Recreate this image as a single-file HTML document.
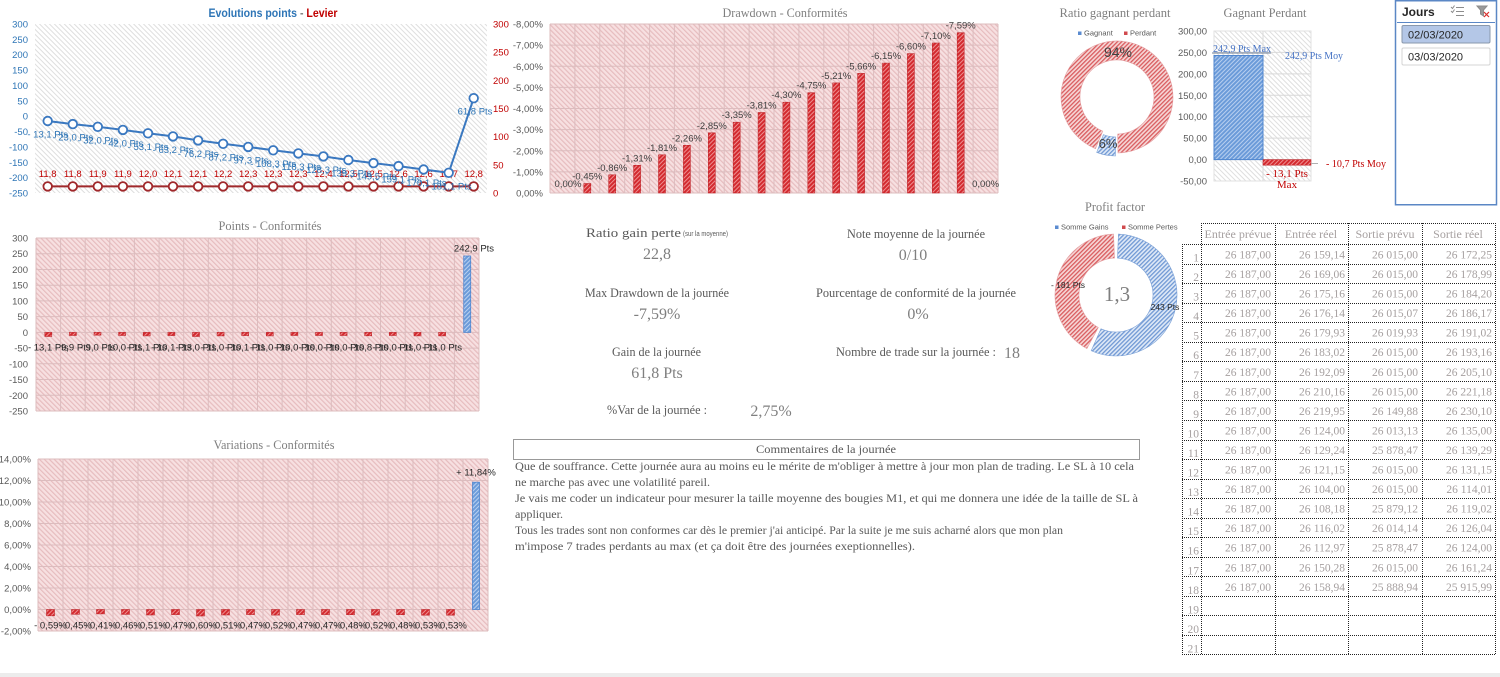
<!DOCTYPE html>
<html><head><meta charset="utf-8"><style>
html,body{margin:0;padding:0;background:#fff;width:1500px;height:677px;overflow:hidden}
svg{display:block}
</style></head><body>
<svg width="1500" height="677" viewBox="0 0 1500 677" xmlns="http://www.w3.org/2000/svg">
<defs>
<pattern id="pk" width="3.5" height="3.5" patternUnits="userSpaceOnUse" patternTransform="rotate(-45)"><rect width="3.5" height="3.5" fill="#f7e0e1"/><rect width="1.2" height="3.5" fill="#e6bcbe"/></pattern>
<pattern id="gy" width="3.5" height="3.5" patternUnits="userSpaceOnUse" patternTransform="rotate(-45)"><rect width="3.5" height="3.5" fill="#ffffff"/><rect width="1" height="3.5" fill="#dedede"/></pattern>
<pattern id="rb" width="3" height="3" patternUnits="userSpaceOnUse" patternTransform="rotate(45)"><rect width="3" height="3" fill="#d32a2f"/><rect width="1" height="3" fill="#ef8e90"/></pattern>
<pattern id="bb" width="3" height="3" patternUnits="userSpaceOnUse" patternTransform="rotate(45)"><rect width="3" height="3" fill="#6b9bd9"/><rect width="1" height="3" fill="#b9d0f0"/></pattern>
<pattern id="rd" width="3" height="3" patternUnits="userSpaceOnUse" patternTransform="rotate(45)"><rect width="3" height="3" fill="#f6d6d6"/><rect width="1.3" height="3" fill="#d95b5e"/></pattern>
<pattern id="bd" width="3" height="3" patternUnits="userSpaceOnUse" patternTransform="rotate(45)"><rect width="3" height="3" fill="#dfe9f7"/><rect width="1.3" height="3" fill="#6f98d4"/></pattern>
</defs>

<!-- ============ Chart 1: Evolutions points - Levier ============ -->
<text x="273" y="17" text-anchor="middle" font-family="Liberation Sans, sans-serif" font-size="12" font-weight="bold" textLength="129" lengthAdjust="spacingAndGlyphs"><tspan fill="#2e75b6">Evolutions points</tspan><tspan fill="#7f7f7f"> - </tspan><tspan fill="#c00000">Levier</tspan></text>
<rect x="35" y="24" width="452" height="169" fill="url(#gy)"/>
<g font-family="Liberation Sans, sans-serif" font-size="9.5" fill="#2e75b6" text-anchor="end">
<text x="28" y="27.5">300</text><text x="28" y="42.9">250</text><text x="28" y="58.2">200</text><text x="28" y="73.6">150</text><text x="28" y="89">100</text><text x="28" y="104.3">50</text><text x="28" y="119.7">0</text><text x="28" y="135">-50</text><text x="28" y="150.4">-100</text><text x="28" y="165.8">-150</text><text x="28" y="181.1">-200</text><text x="28" y="196.5">-250</text>
</g>
<g font-family="Liberation Sans, sans-serif" font-size="9.5" fill="#c00000" text-anchor="start">
<text x="493" y="27.5">300</text><text x="493" y="55.7">250</text><text x="493" y="83.8">200</text><text x="493" y="112">150</text><text x="493" y="140.2">100</text><text x="493" y="168.3">50</text><text x="493" y="196.5">0</text>
</g>
<polyline fill="none" stroke="#a0282b" stroke-width="2" points="47.7,186.4 72.8,186.4 97.8,186.4 122.9,186.4 148,186.4 173,186.4 198.1,186.4 223.1,186.4 248.2,186.4 273.2,186.4 298.3,186.4 323.4,186.4 348.4,186.4 373.5,186.4 398.5,186.4 423.6,186.4 448.7,186.4 473.7,186.4"/>
<g fill="#fff" stroke="#a0282b" stroke-width="1.8">
<circle cx="47.7" cy="186.4" r="4.3"/><circle cx="72.8" cy="186.4" r="4.3"/><circle cx="97.8" cy="186.4" r="4.3"/><circle cx="122.9" cy="186.4" r="4.3"/><circle cx="148" cy="186.4" r="4.3"/><circle cx="173" cy="186.4" r="4.3"/><circle cx="198.1" cy="186.4" r="4.3"/><circle cx="223.1" cy="186.4" r="4.3"/><circle cx="248.2" cy="186.4" r="4.3"/><circle cx="273.2" cy="186.4" r="4.3"/><circle cx="298.3" cy="186.4" r="4.3"/><circle cx="323.4" cy="186.4" r="4.3"/><circle cx="348.4" cy="186.4" r="4.3"/><circle cx="373.5" cy="186.4" r="4.3"/><circle cx="398.5" cy="186.4" r="4.3"/><circle cx="423.6" cy="186.4" r="4.3"/><circle cx="448.7" cy="186.4" r="4.3"/><circle cx="473.7" cy="186.4" r="4.3"/>
</g>
<g font-family="Liberation Sans, sans-serif" font-size="9.5" fill="#c00000" text-anchor="middle">
<text x="47.7" y="177">11,8</text><text x="72.8" y="177">11,8</text><text x="97.8" y="177">11,9</text><text x="122.9" y="177">11,9</text><text x="148" y="177">12,0</text><text x="173" y="177">12,1</text><text x="198.1" y="177">12,1</text><text x="223.1" y="177">12,2</text><text x="248.2" y="177">12,3</text><text x="273.2" y="177">12,3</text><text x="298.3" y="177">12,3</text><text x="323.4" y="177">12,4</text><text x="348.4" y="177">12,5</text><text x="373.5" y="177">12,5</text><text x="398.5" y="177">12,6</text><text x="423.6" y="177">12,6</text><text x="448.7" y="177">12,7</text><text x="473.7" y="177">12,8</text>
</g>
<polyline fill="none" stroke="#3a78c0" stroke-width="2" points="47.7,121 72.8,124.1 97.8,126.8 122.9,129.9 148,133.3 173,136.4 198.1,140.4 223.1,143.8 248.2,146.9 273.2,150.3 298.3,153.4 323.4,156.4 348.4,160 373.5,163.1 398.5,166.1 423.6,169.5 448.7,172.8 473.7,98.2"/>
<g fill="#fff" stroke="#3a78c0" stroke-width="1.8">
<circle cx="47.7" cy="121" r="4.3"/><circle cx="72.8" cy="124.1" r="4.3"/><circle cx="97.8" cy="126.8" r="4.3"/><circle cx="122.9" cy="129.9" r="4.3"/><circle cx="148" cy="133.3" r="4.3"/><circle cx="173" cy="136.4" r="4.3"/><circle cx="198.1" cy="140.4" r="4.3"/><circle cx="223.1" cy="143.8" r="4.3"/><circle cx="248.2" cy="146.9" r="4.3"/><circle cx="273.2" cy="150.3" r="4.3"/><circle cx="298.3" cy="153.4" r="4.3"/><circle cx="323.4" cy="156.4" r="4.3"/><circle cx="348.4" cy="160" r="4.3"/><circle cx="373.5" cy="163.1" r="4.3"/><circle cx="398.5" cy="166.1" r="4.3"/><circle cx="423.6" cy="169.5" r="4.3"/><circle cx="448.7" cy="172.8" r="4.3"/><circle cx="473.7" cy="98.2" r="4.3"/>
</g>
<g font-family="Liberation Sans, sans-serif" font-size="9.5" fill="#2e75b6" text-anchor="middle">
<text x="47.7" y="137.5">- 13,1 Pts</text><text x="72.8" y="140.6">- 23,0 Pts</text><text x="97.8" y="143.3">- 32,0 Pts</text><text x="122.9" y="146.4">- 42,0 Pts</text><text x="148" y="149.8">- 53,1 Pts</text><text x="173" y="152.9">- 63,2 Pts</text><text x="198.1" y="156.9">- 76,2 Pts</text><text x="223.1" y="160.3">- 87,2 Pts</text><text x="248.2" y="163.4">- 97,3 Pts</text><text x="273.2" y="166.8">- 108,3 Pts</text><text x="298.3" y="169.9">- 118,3 Pts</text><text x="323.4" y="172.9">- 128,3 Pts</text><text x="348.4" y="176.5">- 139,3 Pts</text><text x="373.5" y="179.6">- 149,5 Pts</text><text x="398.5" y="182.6">- 159,1 Pts</text><text x="423.6" y="186">- 170,1 Pts</text><text x="448.7" y="189.3">- 181,1 Pts</text><text x="475" y="114.7">61,8 Pts</text>
</g>

<!-- ============ Chart 2: Drawdown ============ -->
<text x="785" y="17" text-anchor="middle" font-family="Liberation Serif, serif" font-size="13" fill="#7f7f7f" textLength="125" lengthAdjust="spacingAndGlyphs">Drawdown - Conformités</text>
<rect x="550" y="24" width="448" height="169" fill="url(#pk)"/>
<g stroke="#dcbcbe" stroke-width="1">
<line x1="550" y1="24" x2="998" y2="24"/><line x1="550" y1="45.1" x2="998" y2="45.1"/><line x1="550" y1="66.25" x2="998" y2="66.25"/><line x1="550" y1="87.4" x2="998" y2="87.4"/><line x1="550" y1="108.5" x2="998" y2="108.5"/><line x1="550" y1="129.6" x2="998" y2="129.6"/><line x1="550" y1="150.75" x2="998" y2="150.75"/><line x1="550" y1="171.9" x2="998" y2="171.9"/><line x1="550" y1="193" x2="998" y2="193"/>
<line x1="550" y1="24" x2="550" y2="193"/><line x1="574.9" y1="24" x2="574.9" y2="193"/><line x1="599.8" y1="24" x2="599.8" y2="193"/><line x1="624.7" y1="24" x2="624.7" y2="193"/><line x1="649.6" y1="24" x2="649.6" y2="193"/><line x1="674.4" y1="24" x2="674.4" y2="193"/><line x1="699.3" y1="24" x2="699.3" y2="193"/><line x1="724.2" y1="24" x2="724.2" y2="193"/><line x1="749.1" y1="24" x2="749.1" y2="193"/><line x1="774" y1="24" x2="774" y2="193"/><line x1="798.9" y1="24" x2="798.9" y2="193"/><line x1="823.8" y1="24" x2="823.8" y2="193"/><line x1="848.7" y1="24" x2="848.7" y2="193"/><line x1="873.6" y1="24" x2="873.6" y2="193"/><line x1="898.4" y1="24" x2="898.4" y2="193"/><line x1="923.3" y1="24" x2="923.3" y2="193"/><line x1="948.2" y1="24" x2="948.2" y2="193"/><line x1="973.1" y1="24" x2="973.1" y2="193"/><line x1="998" y1="24" x2="998" y2="193"/>
</g>
<g font-family="Liberation Sans, sans-serif" font-size="9.5" fill="#595959" text-anchor="end">
<text x="543" y="27.5">-8,00%</text><text x="543" y="48.6">-7,00%</text><text x="543" y="69.8">-6,00%</text><text x="543" y="90.9">-5,00%</text><text x="543" y="112">-4,00%</text><text x="543" y="133.1">-3,00%</text><text x="543" y="154.3">-2,00%</text><text x="543" y="175.4">-1,00%</text><text x="543" y="196.5">0,00%</text>
</g>
<g fill="url(#rb)" stroke="#c0282d" stroke-width="0.6">
<rect x="583.8" y="183.5" width="7" height="9.5"/><rect x="608.7" y="174.8" width="7" height="18.2"/><rect x="633.6" y="165.3" width="7" height="27.7"/><rect x="658.5" y="154.8" width="7" height="38.2"/><rect x="683.4" y="145.3" width="7" height="47.7"/><rect x="708.3" y="132.8" width="7" height="60.2"/><rect x="733.2" y="122.2" width="7" height="70.8"/><rect x="758.1" y="112.5" width="7" height="80.5"/><rect x="782.9" y="102.2" width="7" height="90.8"/><rect x="807.8" y="92.7" width="7" height="100.3"/><rect x="832.7" y="82.9" width="7" height="110.1"/><rect x="857.6" y="73.4" width="7" height="119.6"/><rect x="882.5" y="63.1" width="7" height="129.9"/><rect x="907.4" y="53.6" width="7" height="139.4"/><rect x="932.3" y="43" width="7" height="150"/><rect x="957.2" y="32.7" width="7" height="160.3"/>
</g>
<g font-family="Liberation Sans, sans-serif" font-size="9.5" fill="#404040" text-anchor="middle">
<text x="568" y="187">0,00%</text><text x="587.3" y="179.5">-0,45%</text><text x="612.2" y="170.8">-0,86%</text><text x="637.1" y="161.3">-1,31%</text><text x="662" y="150.8">-1,81%</text><text x="686.9" y="141.3">-2,26%</text><text x="711.8" y="128.8">-2,85%</text><text x="736.7" y="118.2">-3,35%</text><text x="761.6" y="108.5">-3,81%</text><text x="786.4" y="98.2">-4,30%</text><text x="811.3" y="88.7">-4,75%</text><text x="836.2" y="78.9">-5,21%</text><text x="861.1" y="69.4">-5,66%</text><text x="886" y="59.1">-6,15%</text><text x="910.9" y="49.6">-6,60%</text><text x="935.8" y="39">-7,10%</text><text x="960.7" y="28.7">-7,59%</text><text x="985.6" y="187">0,00%</text>
</g>

<!-- ============ Chart 3: Ratio gagnant perdant ============ -->
<text x="1115" y="17" text-anchor="middle" font-family="Liberation Serif, serif" font-size="13" fill="#7f7f7f" textLength="111" lengthAdjust="spacingAndGlyphs">Ratio gagnant perdant</text>
<g font-family="Liberation Sans, sans-serif" font-size="7.5" fill="#595959">
<rect x="1078" y="31.5" width="3.5" height="3.5" fill="#5b8bd0"/><text x="1084" y="35.5">Gagnant</text>
<rect x="1124" y="31.5" width="3.5" height="3.5" fill="#d04a4e"/><text x="1130" y="35.5">Perdant</text>
</g>
<path d="M 1095.48 148.70 A 56 56 0 1 1 1117.98 152.99 L 1117.65 133.99 A 37 37 0 1 0 1102.78 131.16 Z" fill="url(#rd)" stroke="#e4a0a2" stroke-width="0.6"/>
<path d="M 1116.02 152.99 A 56 56 0 0 1 1097.30 149.42 L 1103.98 131.64 A 37 37 0 0 0 1116.35 133.99 Z" fill="url(#bd)" stroke="#7aa0d6" stroke-width="0.6" transform="translate(-0.6,3)"/>
<text x="1118" y="57" text-anchor="middle" font-family="Liberation Sans, sans-serif" font-size="14" fill="#404040">94%</text>
<text x="1108" y="148" text-anchor="middle" font-family="Liberation Sans, sans-serif" font-size="13" fill="#404040">6%</text>

<!-- ============ Chart 4: Gagnant Perdant ============ -->
<text x="1265" y="17" text-anchor="middle" font-family="Liberation Serif, serif" font-size="13" fill="#7f7f7f" textLength="83" lengthAdjust="spacingAndGlyphs">Gagnant Perdant</text>
<rect x="1214" y="31" width="97" height="150" fill="url(#gy)" stroke="#e2e2e2" stroke-width="1"/>
<g stroke="#d9d9d9" stroke-width="1">
<line x1="1214" y1="52.4" x2="1311" y2="52.4"/><line x1="1214" y1="73.9" x2="1311" y2="73.9"/><line x1="1214" y1="95.3" x2="1311" y2="95.3"/><line x1="1214" y1="116.7" x2="1311" y2="116.7"/><line x1="1214" y1="138.1" x2="1311" y2="138.1"/><line x1="1214" y1="159.6" x2="1311" y2="159.6"/>
<line x1="1263" y1="31" x2="1263" y2="181"/>
</g>
<g font-family="Liberation Sans, sans-serif" font-size="9.5" fill="#595959" text-anchor="end">
<text x="1207" y="34.5">300,00</text><text x="1207" y="55.9">250,00</text><text x="1207" y="77.4">200,00</text><text x="1207" y="98.8">150,00</text><text x="1207" y="120.2">100,00</text><text x="1207" y="141.6">50,00</text><text x="1207" y="163.1">0,00</text><text x="1207" y="184.5">-50,00</text>
</g>
<rect x="1214" y="55.5" width="49" height="104.1" fill="url(#bb)" stroke="#4f86cf" stroke-width="1"/>
<rect x="1263" y="159.6" width="48" height="5.6" fill="url(#rb)" stroke="#c0282d" stroke-width="0.6"/>
<line x1="1212" y1="53" x2="1271" y2="53" stroke="#6d7f99" stroke-width="1"/>
<line x1="1311" y1="163.5" x2="1318" y2="163.5" stroke="#b0b0b0" stroke-width="1"/>
<g font-family="Liberation Serif, serif" font-size="11">
<text x="1242" y="52" text-anchor="middle" fill="#4472c4" textLength="58" lengthAdjust="spacingAndGlyphs">242,9 Pts Max</text>
<text x="1314" y="59" text-anchor="middle" fill="#4472c4" textLength="58" lengthAdjust="spacingAndGlyphs">242,9 Pts Moy</text>
<text x="1356" y="167" text-anchor="middle" fill="#c00000" textLength="60" lengthAdjust="spacingAndGlyphs">- 10,7 Pts Moy</text>
<text x="1287" y="177" text-anchor="middle" fill="#c00000">- 13,1 Pts</text>
<text x="1287" y="188" text-anchor="middle" fill="#c00000">Max</text>
</g>

<!-- ============ Slicer ============ -->
<rect x="1395.5" y="0.75" width="101" height="204" fill="#fff" stroke="#5b87c5" stroke-width="1.5"/>
<text x="1402" y="16" font-family="Liberation Sans, sans-serif" font-size="12" font-weight="bold" fill="#262626">Jours</text>
<line x1="1397" y1="22.5" x2="1495" y2="22.5" stroke="#5b87c5" stroke-width="1"/>
<g stroke="#8c8c8c" stroke-width="1" fill="none">
<line x1="1456" y1="7.5" x2="1464" y2="7.5"/><line x1="1456" y1="11.5" x2="1464" y2="11.5"/><line x1="1456" y1="15.5" x2="1464" y2="15.5"/>
<polyline points="1451,7 1452.5,8.5 1454.5,5.5"/><polyline points="1451,11 1452.5,12.5 1454.5,9.5"/>
<path d="M1477 6 L1487 6 L1483.5 10 L1483.5 16 L1480.5 14 L1480.5 10 Z" fill="#9a9a9a" stroke="#8c8c8c"/>
</g>
<g stroke="#d9302e" stroke-width="1.2"><line x1="1484" y1="12" x2="1489" y2="17"/><line x1="1489" y1="12" x2="1484" y2="17"/></g>
<rect x="1402" y="25.5" width="88" height="17.5" rx="1.5" fill="#b4c7e7" stroke="#8a98ac" stroke-width="1"/>
<text x="1408" y="38.5" font-family="Liberation Sans, sans-serif" font-size="11" fill="#262626">02/03/2020</text>
<rect x="1402" y="48" width="88" height="17" rx="1.5" fill="#fff" stroke="#d4d4d4" stroke-width="1"/>
<text x="1408" y="60.5" font-family="Liberation Sans, sans-serif" font-size="11" fill="#262626">03/03/2020</text>

<!-- ============ Profit factor ============ -->
<text x="1115" y="211" text-anchor="middle" font-family="Liberation Serif, serif" font-size="13" fill="#7f7f7f" textLength="60" lengthAdjust="spacingAndGlyphs">Profit factor</text>
<g font-family="Liberation Sans, sans-serif" font-size="7.5" fill="#595959">
<rect x="1055" y="225.5" width="3.5" height="3.5" fill="#5b8bd0"/><text x="1061" y="229.5">Somme Gains</text>
<rect x="1122" y="225.5" width="3.5" height="3.5" fill="#d04a4e"/><text x="1128" y="229.5">Somme Pertes</text>
</g>
<path d="M 1118.45 234.05 A 61 61 0 1 1 1091.19 350.72 L 1100.95 328.80 A 37 37 0 1 0 1117.48 258.03 Z" fill="url(#bd)" stroke="#7aa0d6" stroke-width="0.6"/>
<path d="M 1086.89 348.61 A 61 61 0 0 1 1113.55 234.05 L 1114.52 258.03 A 37 37 0 0 0 1098.34 327.52 Z" fill="url(#rd)" stroke="#e4a0a2" stroke-width="0.6"/>
<text x="1117" y="301" text-anchor="middle" font-family="Liberation Serif, serif" font-size="21" fill="#7f7f7f">1,3</text>
<g font-family="Liberation Sans, sans-serif" font-size="8.5" fill="#262626">
<text x="1068" y="288" text-anchor="middle">- 181 Pts</text>
<text x="1165" y="310" text-anchor="middle">243 Pts</text>
</g>

<!-- ============ Middle KPIs ============ -->
<g font-family="Liberation Serif, serif" font-size="12.5" fill="#595959">
<text x="586" y="237" font-size="12.5" textLength="95" lengthAdjust="spacingAndGlyphs">Ratio gain perte</text>
<text x="683" y="236" font-family="Liberation Sans, sans-serif" font-size="7" textLength="45" lengthAdjust="spacingAndGlyphs">(sur la moyenne)</text>
<text x="847" y="238" textLength="138" lengthAdjust="spacingAndGlyphs">Note moyenne de la journée</text>
<text x="585" y="297" textLength="144" lengthAdjust="spacingAndGlyphs">Max Drawdown de la journée</text>
<text x="816" y="297" textLength="200" lengthAdjust="spacingAndGlyphs">Pourcentage de conformité de la journée</text>
<text x="612" y="356" textLength="89" lengthAdjust="spacingAndGlyphs">Gain de la journée</text>
<text x="836" y="356" textLength="160" lengthAdjust="spacingAndGlyphs">Nombre de trade sur la journée :</text>
<text x="607" y="414" textLength="100" lengthAdjust="spacingAndGlyphs">%Var de la journée :</text>
</g>
<g font-family="Liberation Serif, serif" font-size="16" fill="#7f7f7f" text-anchor="middle">
<text x="657" y="259">22,8</text>
<text x="913" y="260">0/10</text>
<text x="657" y="319">-7,59%</text>
<text x="918" y="319">0%</text>
<text x="657" y="378">61,8 Pts</text>
<text x="1012" y="358">18</text>
<text x="771" y="416">2,75%</text>
</g>

<!-- ============ Comments ============ -->
<rect x="513.5" y="439.5" width="626" height="20" fill="none" stroke="#333" stroke-width="1" stroke-dasharray="1,1"/>
<text x="826" y="453" text-anchor="middle" font-family="Liberation Serif, serif" font-size="12" fill="#595959" textLength="140" lengthAdjust="spacingAndGlyphs">Commentaires de la journée</text>
<g font-family="Liberation Serif, serif" font-size="12" fill="#595959">
<text x="515" y="470" textLength="619" lengthAdjust="spacingAndGlyphs">Que de souffrance. Cette journée aura au moins eu le mérite de m'obliger à mettre à jour mon plan de trading. Le SL à 10 cela</text>
<text x="515" y="486" textLength="195" lengthAdjust="spacingAndGlyphs">ne marche pas avec une volatilité pareil.</text>
<text x="515" y="502" textLength="623" lengthAdjust="spacingAndGlyphs">Je vais me coder un indicateur pour mesurer la taille moyenne des bougies M1, et qui me donnera une idée de la taille de SL à</text>
<text x="515" y="518" textLength="48" lengthAdjust="spacingAndGlyphs">appliquer.</text>
<text x="515" y="534" textLength="548" lengthAdjust="spacingAndGlyphs">Tous les trades sont non conformes car dès le premier j'ai anticipé. Par la suite je me suis acharné alors que mon plan</text>
<text x="515" y="550" textLength="400" lengthAdjust="spacingAndGlyphs">m'impose 7 trades perdants au max (et ça doit être des journées exeptionnelles).</text>
</g>

<!-- ============ Points - Conformités ============ -->
<text x="270" y="230" text-anchor="middle" font-family="Liberation Serif, serif" font-size="13" fill="#7f7f7f" textLength="103" lengthAdjust="spacingAndGlyphs">Points - Conformités</text>
<rect x="36" y="238" width="443" height="173" fill="url(#pk)"/>
<g stroke="#dcbcbe" stroke-width="1">
<line x1="36" y1="238" x2="479" y2="238"/><line x1="36" y1="253.7" x2="479" y2="253.7"/><line x1="36" y1="269.5" x2="479" y2="269.5"/><line x1="36" y1="285.2" x2="479" y2="285.2"/><line x1="36" y1="300.9" x2="479" y2="300.9"/><line x1="36" y1="316.6" x2="479" y2="316.6"/><line x1="36" y1="332.4" x2="479" y2="332.4"/><line x1="36" y1="348.1" x2="479" y2="348.1"/><line x1="36" y1="363.8" x2="479" y2="363.8"/><line x1="36" y1="379.5" x2="479" y2="379.5"/><line x1="36" y1="395.3" x2="479" y2="395.3"/><line x1="36" y1="411" x2="479" y2="411"/>
<line x1="36" y1="238" x2="36" y2="411"/><line x1="60.6" y1="238" x2="60.6" y2="411"/><line x1="85.2" y1="238" x2="85.2" y2="411"/><line x1="109.8" y1="238" x2="109.8" y2="411"/><line x1="134.4" y1="238" x2="134.4" y2="411"/><line x1="159.1" y1="238" x2="159.1" y2="411"/><line x1="183.7" y1="238" x2="183.7" y2="411"/><line x1="208.3" y1="238" x2="208.3" y2="411"/><line x1="232.9" y1="238" x2="232.9" y2="411"/><line x1="257.5" y1="238" x2="257.5" y2="411"/><line x1="282.1" y1="238" x2="282.1" y2="411"/><line x1="306.7" y1="238" x2="306.7" y2="411"/><line x1="331.3" y1="238" x2="331.3" y2="411"/><line x1="355.9" y1="238" x2="355.9" y2="411"/><line x1="380.5" y1="238" x2="380.5" y2="411"/><line x1="405.2" y1="238" x2="405.2" y2="411"/><line x1="429.8" y1="238" x2="429.8" y2="411"/><line x1="454.4" y1="238" x2="454.4" y2="411"/><line x1="479" y1="238" x2="479" y2="411"/>
</g>
<g font-family="Liberation Sans, sans-serif" font-size="9.5" fill="#595959" text-anchor="end">
<text x="28" y="241.5">300</text><text x="28" y="257.2">250</text><text x="28" y="273">200</text><text x="28" y="288.7">150</text><text x="28" y="304.4">100</text><text x="28" y="320.1">50</text><text x="28" y="335.9">0</text><text x="28" y="351.6">-50</text><text x="28" y="367.3">-100</text><text x="28" y="383">-150</text><text x="28" y="398.8">-200</text><text x="28" y="414.5">-250</text>
</g>
<g fill="url(#rb)" stroke="#c0282d" stroke-width="0.6">
<rect x="44.8" y="332.4" width="7" height="4.1"/><rect x="69.4" y="332.4" width="7" height="3.1"/><rect x="94" y="332.4" width="7" height="2.8"/><rect x="118.6" y="332.4" width="7" height="3.1"/><rect x="143.2" y="332.4" width="7" height="3.5"/><rect x="167.9" y="332.4" width="7" height="3.2"/><rect x="192.5" y="332.4" width="7" height="4.1"/><rect x="217.1" y="332.4" width="7" height="3.5"/><rect x="241.7" y="332.4" width="7" height="3.2"/><rect x="266.3" y="332.4" width="7" height="3.5"/><rect x="290.9" y="332.4" width="7" height="3.1"/><rect x="315.5" y="332.4" width="7" height="3.1"/><rect x="340.1" y="332.4" width="7" height="3.1"/><rect x="364.7" y="332.4" width="7" height="3.4"/><rect x="389.3" y="332.4" width="7" height="3.1"/><rect x="414" y="332.4" width="7" height="3.5"/><rect x="438.6" y="332.4" width="7" height="3.5"/>
</g>
<rect x="463.7" y="256" width="7" height="76.4" fill="url(#bb)" stroke="#4f86cf" stroke-width="0.8"/>
<g font-family="Liberation Sans, sans-serif" font-size="9.5" fill="#262626" text-anchor="middle">
<text x="48.3" y="350.5">- 13,1 Pts</text><text x="72.9" y="350.5">- 9,9 Pts</text><text x="97.5" y="350.5">- 9,0 Pts</text><text x="122.1" y="350.5">- 10,0 Pts</text><text x="146.7" y="350.5">- 11,1 Pts</text><text x="171.4" y="350.5">- 10,1 Pts</text><text x="196" y="350.5">- 13,0 Pts</text><text x="220.6" y="350.5">- 11,0 Pts</text><text x="245.2" y="350.5">- 10,1 Pts</text><text x="269.8" y="350.5">- 11,0 Pts</text><text x="294.4" y="350.5">- 10,0 Pts</text><text x="319" y="350.5">- 10,0 Pts</text><text x="343.6" y="350.5">- 10,0 Pts</text><text x="368.2" y="350.5">- 10,8 Pts</text><text x="392.8" y="350.5">- 10,0 Pts</text><text x="417.5" y="350.5">- 11,0 Pts</text><text x="442.1" y="350.5">- 11,0 Pts</text><text x="474" y="251.5">242,9 Pts</text>
</g>

<!-- ============ Variations - Conformités ============ -->
<text x="274" y="449" text-anchor="middle" font-family="Liberation Serif, serif" font-size="13" fill="#7f7f7f" textLength="121" lengthAdjust="spacingAndGlyphs">Variations - Conformités</text>
<rect x="38" y="459" width="450" height="172" fill="url(#pk)"/>
<g stroke="#dcbcbe" stroke-width="1">
<line x1="38" y1="459" x2="488" y2="459"/><line x1="38" y1="480.5" x2="488" y2="480.5"/><line x1="38" y1="502" x2="488" y2="502"/><line x1="38" y1="523.5" x2="488" y2="523.5"/><line x1="38" y1="545" x2="488" y2="545"/><line x1="38" y1="566.5" x2="488" y2="566.5"/><line x1="38" y1="588" x2="488" y2="588"/><line x1="38" y1="609.5" x2="488" y2="609.5"/><line x1="38" y1="631" x2="488" y2="631"/>
<line x1="38" y1="459" x2="38" y2="631"/><line x1="63" y1="459" x2="63" y2="631"/><line x1="88" y1="459" x2="88" y2="631"/><line x1="113" y1="459" x2="113" y2="631"/><line x1="138" y1="459" x2="138" y2="631"/><line x1="163" y1="459" x2="163" y2="631"/><line x1="188" y1="459" x2="188" y2="631"/><line x1="213" y1="459" x2="213" y2="631"/><line x1="238" y1="459" x2="238" y2="631"/><line x1="263" y1="459" x2="263" y2="631"/><line x1="288" y1="459" x2="288" y2="631"/><line x1="313" y1="459" x2="313" y2="631"/><line x1="338" y1="459" x2="338" y2="631"/><line x1="363" y1="459" x2="363" y2="631"/><line x1="388" y1="459" x2="388" y2="631"/><line x1="413" y1="459" x2="413" y2="631"/><line x1="438" y1="459" x2="438" y2="631"/><line x1="463" y1="459" x2="463" y2="631"/><line x1="488" y1="459" x2="488" y2="631"/>
</g>
<g font-family="Liberation Sans, sans-serif" font-size="9.5" fill="#595959" text-anchor="end">
<text x="31" y="462.5">14,00%</text><text x="31" y="484">12,00%</text><text x="31" y="505.5">10,00%</text><text x="31" y="527">8,00%</text><text x="31" y="548.5">6,00%</text><text x="31" y="570">4,00%</text><text x="31" y="591.5">2,00%</text><text x="31" y="613">0,00%</text><text x="31" y="634.5">-2,00%</text>
</g>
<g fill="url(#rb)" stroke="#c0282d" stroke-width="0.6">
<rect x="46.5" y="609.5" width="8" height="6.3"/><rect x="71.5" y="609.5" width="8" height="4.8"/><rect x="96.5" y="609.5" width="8" height="4.4"/><rect x="121.5" y="609.5" width="8" height="4.9"/><rect x="146.5" y="609.5" width="8" height="5.5"/><rect x="171.5" y="609.5" width="8" height="5.1"/><rect x="196.5" y="609.5" width="8" height="6.5"/><rect x="221.5" y="609.5" width="8" height="5.5"/><rect x="246.5" y="609.5" width="8" height="5.1"/><rect x="271.5" y="609.5" width="8" height="5.6"/><rect x="296.5" y="609.5" width="8" height="5.1"/><rect x="321.5" y="609.5" width="8" height="5.1"/><rect x="346.5" y="609.5" width="8" height="5.2"/><rect x="371.5" y="609.5" width="8" height="5.6"/><rect x="396.5" y="609.5" width="8" height="5.2"/><rect x="421.5" y="609.5" width="8" height="5.7"/><rect x="446.5" y="609.5" width="8" height="5.7"/>
</g>
<rect x="472.5" y="482.2" width="7" height="127.3" fill="url(#bb)" stroke="#4f86cf" stroke-width="0.8"/>
<g font-family="Liberation Sans, sans-serif" font-size="9.5" fill="#262626" text-anchor="middle">
<text x="50.5" y="628.5">- 0,59%</text><text x="75.5" y="628.5">- 0,45%</text><text x="100.5" y="628.5">- 0,41%</text><text x="125.5" y="628.5">- 0,46%</text><text x="150.5" y="628.5">- 0,51%</text><text x="175.5" y="628.5">- 0,47%</text><text x="200.5" y="628.5">- 0,60%</text><text x="225.5" y="628.5">- 0,51%</text><text x="250.5" y="628.5">- 0,47%</text><text x="275.5" y="628.5">- 0,52%</text><text x="300.5" y="628.5">- 0,47%</text><text x="325.5" y="628.5">- 0,47%</text><text x="350.5" y="628.5">- 0,48%</text><text x="375.5" y="628.5">- 0,52%</text><text x="400.5" y="628.5">- 0,48%</text><text x="425.5" y="628.5">- 0,53%</text><text x="450.5" y="628.5">- 0,53%</text><text x="476" y="475.5">+ 11,84%</text>
</g>

<!-- ============ Table ============ -->
<g stroke="#222" stroke-width="1" stroke-dasharray="1,1" fill="none">
<line x1="1201" y1="223.5" x2="1496" y2="223.5"/>
<line x1="1182" y1="244.5" x2="1496" y2="244.5"/><line x1="1182" y1="264.5" x2="1496" y2="264.5"/><line x1="1182" y1="283.5" x2="1496" y2="283.5"/><line x1="1182" y1="303.5" x2="1496" y2="303.5"/><line x1="1182" y1="322.5" x2="1496" y2="322.5"/><line x1="1182" y1="342.5" x2="1496" y2="342.5"/><line x1="1182" y1="361.5" x2="1496" y2="361.5"/><line x1="1182" y1="381.5" x2="1496" y2="381.5"/><line x1="1182" y1="400.5" x2="1496" y2="400.5"/><line x1="1182" y1="420.5" x2="1496" y2="420.5"/><line x1="1182" y1="440.5" x2="1496" y2="440.5"/><line x1="1182" y1="459.5" x2="1496" y2="459.5"/><line x1="1182" y1="479.5" x2="1496" y2="479.5"/><line x1="1182" y1="498.5" x2="1496" y2="498.5"/><line x1="1182" y1="518.5" x2="1496" y2="518.5"/><line x1="1182" y1="537.5" x2="1496" y2="537.5"/><line x1="1182" y1="557.5" x2="1496" y2="557.5"/><line x1="1182" y1="576.5" x2="1496" y2="576.5"/><line x1="1182" y1="596.5" x2="1496" y2="596.5"/><line x1="1182" y1="615.5" x2="1496" y2="615.5"/><line x1="1182" y1="635.5" x2="1496" y2="635.5"/><line x1="1182" y1="654.5" x2="1496" y2="654.5"/>
<line x1="1182.5" y1="244" x2="1182.5" y2="655"/><line x1="1201.5" y1="223" x2="1201.5" y2="655"/><line x1="1275.5" y1="223" x2="1275.5" y2="655"/><line x1="1348.5" y1="223" x2="1348.5" y2="655"/><line x1="1422.5" y1="223" x2="1422.5" y2="655"/><line x1="1495.5" y1="223" x2="1495.5" y2="655"/>
</g>
<g font-family="Liberation Serif, serif" font-size="12" fill="#a6a0a0" text-anchor="middle">
<text x="1238" y="238">Entrée prévue</text><text x="1311" y="238">Entrée réel</text><text x="1385" y="238">Sortie prévu</text><text x="1458" y="238">Sortie réel</text>
</g>
<g font-family="Liberation Serif, serif" font-size="11.5" fill="#a6a0a0" text-anchor="end">
<text x="1199" y="261.5">1</text><text x="1199" y="281">2</text><text x="1199" y="300.6">3</text><text x="1199" y="320.1">4</text><text x="1199" y="339.7">5</text><text x="1199" y="359.2">6</text><text x="1199" y="378.8">7</text><text x="1199" y="398.3">8</text><text x="1199" y="417.9">9</text><text x="1199" y="437.4">10</text><text x="1199" y="457">11</text><text x="1199" y="476.5">12</text><text x="1199" y="496.1">13</text><text x="1199" y="515.6">14</text><text x="1199" y="535.2">15</text><text x="1199" y="554.7">16</text><text x="1199" y="574.3">17</text><text x="1199" y="593.8">18</text><text x="1199" y="613.4">19</text><text x="1199" y="632.9">20</text><text x="1199" y="652.5">21</text>
</g>
<g font-family="Liberation Serif, serif" font-size="11.5" fill="#a6a0a0" text-anchor="end">
<text x="1271" y="258.5">26 187,00</text><text x="1345" y="258.5">26 159,14</text><text x="1418" y="258.5">26 015,00</text><text x="1492" y="258.5">26 172,25</text>
<text x="1271" y="278">26 187,00</text><text x="1345" y="278">26 169,06</text><text x="1418" y="278">26 015,00</text><text x="1492" y="278">26 178,99</text>
<text x="1271" y="297.6">26 187,00</text><text x="1345" y="297.6">26 175,16</text><text x="1418" y="297.6">26 015,00</text><text x="1492" y="297.6">26 184,20</text>
<text x="1271" y="317.1">26 187,00</text><text x="1345" y="317.1">26 176,14</text><text x="1418" y="317.1">26 015,07</text><text x="1492" y="317.1">26 186,17</text>
<text x="1271" y="336.7">26 187,00</text><text x="1345" y="336.7">26 179,93</text><text x="1418" y="336.7">26 019,93</text><text x="1492" y="336.7">26 191,02</text>
<text x="1271" y="356.2">26 187,00</text><text x="1345" y="356.2">26 183,02</text><text x="1418" y="356.2">26 015,00</text><text x="1492" y="356.2">26 193,16</text>
<text x="1271" y="375.8">26 187,00</text><text x="1345" y="375.8">26 192,09</text><text x="1418" y="375.8">26 015,00</text><text x="1492" y="375.8">26 205,10</text>
<text x="1271" y="395.3">26 187,00</text><text x="1345" y="395.3">26 210,16</text><text x="1418" y="395.3">26 015,00</text><text x="1492" y="395.3">26 221,18</text>
<text x="1271" y="414.9">26 187,00</text><text x="1345" y="414.9">26 219,95</text><text x="1418" y="414.9">26 149,88</text><text x="1492" y="414.9">26 230,10</text>
<text x="1271" y="434.4">26 187,00</text><text x="1345" y="434.4">26 124,00</text><text x="1418" y="434.4">26 013,13</text><text x="1492" y="434.4">26 135,00</text>
<text x="1271" y="454">26 187,00</text><text x="1345" y="454">26 129,24</text><text x="1418" y="454">25 878,47</text><text x="1492" y="454">26 139,29</text>
<text x="1271" y="473.5">26 187,00</text><text x="1345" y="473.5">26 121,15</text><text x="1418" y="473.5">26 015,00</text><text x="1492" y="473.5">26 131,15</text>
<text x="1271" y="493.1">26 187,00</text><text x="1345" y="493.1">26 104,00</text><text x="1418" y="493.1">26 015,00</text><text x="1492" y="493.1">26 114,01</text>
<text x="1271" y="512.6">26 187,00</text><text x="1345" y="512.6">26 108,18</text><text x="1418" y="512.6">25 879,12</text><text x="1492" y="512.6">26 119,02</text>
<text x="1271" y="532.2">26 187,00</text><text x="1345" y="532.2">26 116,02</text><text x="1418" y="532.2">26 014,14</text><text x="1492" y="532.2">26 126,04</text>
<text x="1271" y="551.7">26 187,00</text><text x="1345" y="551.7">26 112,97</text><text x="1418" y="551.7">25 878,47</text><text x="1492" y="551.7">26 124,00</text>
<text x="1271" y="571.3">26 187,00</text><text x="1345" y="571.3">26 150,28</text><text x="1418" y="571.3">26 015,00</text><text x="1492" y="571.3">26 161,24</text>
<text x="1271" y="590.8">26 187,00</text><text x="1345" y="590.8">26 158,94</text><text x="1418" y="590.8">25 888,94</text><text x="1492" y="590.8">25 915,99</text>
</g>

<rect x="0" y="673" width="1500" height="4" fill="#ececec"/>
</svg>
</body></html>
